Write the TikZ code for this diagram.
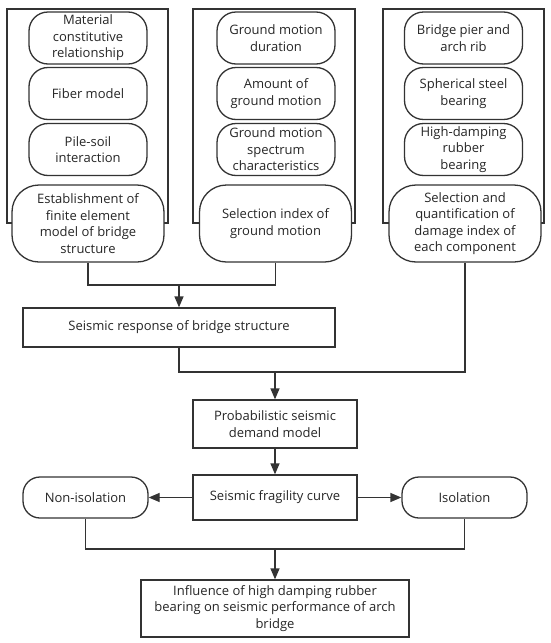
\documentclass[tikz,border=0pt]{standalone}
\usepackage{fontspec}
\setmainfont{Open Sans}
\usetikzlibrary{arrows.meta}
\definecolor{ln}{HTML}{333333}
\definecolor{tx}{HTML}{262626}
\tikzset{
  base/.style={draw=ln, line width=1.3pt, fill=white, text=tx, align=center, inner sep=0pt,
    font=\fontsize{13pt}{16.5pt}\selectfont},
  frame/.style={draw=ln, line width=1.3pt, inner sep=0pt},
  small/.style={base, rounded corners=19pt, minimum width=118pt, minimum height=52pt},
  big/.style={base, rounded corners=27pt, minimum width=152pt, minimum height=77pt},
  rect/.style={base},
  pill/.style={base, rounded corners=17pt, minimum width=125pt, minimum height=41pt},
  conn/.style={draw=ln, line width=1.3pt},
  arr/.style={conn, -{Triangle[length=11pt,width=9pt]}},
}
\begin{document}
\begin{tikzpicture}[x=1pt,y=1pt]
\useasboundingbox (0,0) rectangle (550,-643);
% frames
\node[frame, minimum width=161pt, minimum height=214pt] (f1) at (87.5,-116) {};
\node[frame, minimum width=162pt, minimum height=214pt] (f2) at (274,-116) {};
\node[frame, minimum width=161pt, minimum height=214pt] (f3) at (463.5,-116) {};
% column 1
\node[small] (a1) at (88,-38) {Material\\constitutive\\relationship};
\node[small] (a2) at (88,-93.5) {Fiber model};
\node[small] (a3) at (88,-149.5) {Pile-soil\\interaction};
\node[big] (a4) at (88,-223.5) {Establishment of\\finite element\\model of bridge\\structure};
% column 2
\node[small] (b1) at (276,-38) {Ground motion\\duration};
\node[small] (b2) at (276,-93.5) {Amount of\\ground motion};
\node[small] (b3) at (276,-149.5) {Ground motion\\spectrum\\characteristics};
\node[big] (b4) at (275.5,-223.5) {Selection index of\\ground motion};
% column 3
\node[small] (c1) at (463.5,-38) {Bridge pier and\\arch rib};
\node[small] (c2) at (463.5,-93.5) {Spherical steel\\bearing};
\node[small] (c3) at (463.5,-149.5) {High-damping\\rubber\\bearing};
\node[big] (c4) at (465,-223.5) {Selection and\\quantification of\\damage index of\\each component};
% lower
\node[rect, minimum width=312pt, minimum height=39pt] (resp) at (179,-327.5) {Seismic response of bridge structure};
\node[rect, minimum width=164pt, minimum height=48pt] (prob) at (275,-424) {Probabilistic seismic\\demand model};
\node[rect, minimum width=164pt, minimum height=45pt] (frag) at (275,-497.5) {Seismic fragility curve};
\node[pill] (non) at (85.5,-497.5) {Non-isolation};
\node[pill] (iso) at (464.5,-497.5) {Isolation};
\node[rect, minimum width=268pt, minimum height=57pt] (fin) at (275,-608.5) {Influence of high damping rubber\\bearing on seismic performance of arch\\bridge};
% connectors
\coordinate (j1) at (179,-285);
\coordinate (j2) at (275,-372);
\coordinate (j3) at (275,-549);
\draw[conn] (a4.south) |- (j1);
\draw[conn] (b4.south) |- (j1);
\draw[arr] (j1) -- (resp.north);
\draw[conn] (resp.south) |- (j2);
\draw[conn] (c4.south) |- (j2);
\draw[arr] (j2) -- (prob.north);
\draw[arr] (prob.south) -- (frag.north);
\draw[arr] (frag.west) -- (non.east);
\draw[arr] (frag.east) -- (iso.west);
\draw[conn] (non.south) |- (j3);
\draw[conn] (iso.south) |- (j3);
\draw[arr] (j3) -- (fin.north);
\end{tikzpicture}
\end{document}
